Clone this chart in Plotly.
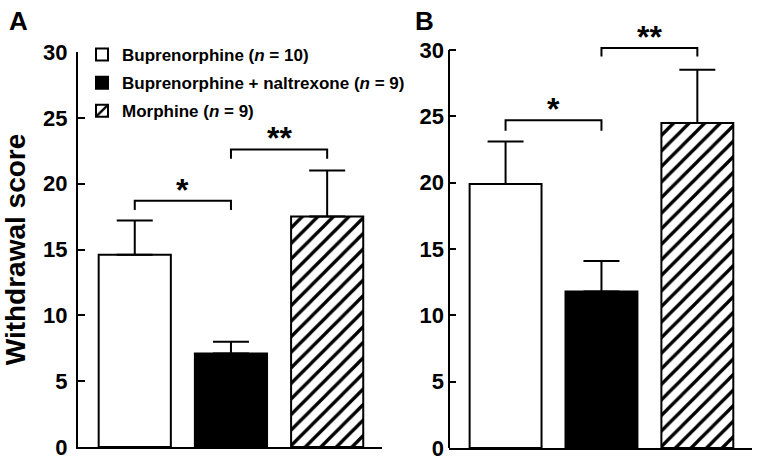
import plotly.graph_objects as go

groups = ["Buprenorphine (<i>n</i> = 10)",
          "Buprenorphine + naltrexone (<i>n</i> = 9)",
          "Morphine (<i>n</i> = 9)"]
xpos = [0, 1, 2]
mean_a = [14.6, 7.1, 17.5]
err_a = [2.6, 0.9, 3.5]
mean_b = [19.9, 11.8, 24.5]
err_b = [3.2, 2.3, 4.0]
yticks = [0, 5, 10, 15, 20, 25, 30]

# significance brackets: (x pair, foot y, top y, label)
sig_a = [([0, 1], 18.0, 18.7, "*"), ([1, 2], 21.9, 22.6, "**")]
sig_b = [([0, 1], 23.9, 24.7, "*"), ([1, 2], 29.5, 30.15, "**")]

FONT = "Liberation Sans, Arial, sans-serif"

# layout geometry (pixels)
W, H = 762, 466
ML, MR, MT, MB = 78, 10, 36, 18
IW, IH = W - ML - MR, H - MT - MB


def px_x(p):
    return (p - ML) / IW


def px_y(p):
    return (H - MB - p) / IH


styles = [
    dict(color="white", line=dict(color="black", width=2)),
    dict(color="black", line=dict(color="black", width=2)),
    dict(color="white", line=dict(color="black", width=2),
         pattern=dict(shape="/", fgcolor="black", bgcolor="white", size=11, solidity=0.3)),
]

fig = go.Figure()
for panel, (means, errs, xa, ya) in enumerate([(mean_a, err_a, "x", "y"), (mean_b, err_b, "x2", "y2")]):
    for i in range(3):
        fig.add_trace(go.Bar(
            x=[xpos[i]], y=[means[i]], width=0.75, name=groups[i],
            marker=styles[i], showlegend=(panel == 0), legendgroup=f"g{i}",
            error_y=dict(type="data", array=[errs[i]], arrayminus=[0], symmetric=False,
                         color="black", thickness=2, width=18),
            xaxis=xa, yaxis=ya))

for sig, xa, ya in [(sig_a, "x", "y"), (sig_b, "x2", "y2")]:
    for (pair, foot, top, label) in sig:
        fig.add_trace(go.Scatter(
            x=[pair[0], pair[0], pair[1], pair[1]], y=[foot, top, top, foot],
            mode="lines", line=dict(color="black", width=2),
            showlegend=False, hoverinfo="skip", xaxis=xa, yaxis=ya))
        fig.add_annotation(x=(pair[0] + pair[1]) / 2, y=top, xref=xa, yref=ya,
                           text=label, showarrow=False, yanchor="bottom", yshift=-9,
                           font=dict(family=FONT, size=32, color="black", weight="bold"))

# panel B's y axis line drawn only up to 30 (range is a bit taller so the top bracket fits)
fig.add_shape(type="line", xref="x2 domain", yref="y2", x0=0, x1=0, y0=0, y1=30,
              line=dict(color="black", width=2))

axis_common = dict(showgrid=False, zeroline=False, linecolor="black", linewidth=2, automargin=False)
tickfont = dict(family=FONT, size=22, color="black", weight="bold")
fig.update_layout(
    template="none",
    width=W, height=H, margin=dict(l=ML, r=MR, t=MT, b=MB, autoexpand=False),
    paper_bgcolor="white", plot_bgcolor="white", barmode="overlay",
    xaxis=dict(domain=[px_x(78), px_x(382)], range=[-0.59, 2.57], showticklabels=False, ticks="",
               showline=True, anchor="y", **axis_common),
    xaxis2=dict(domain=[px_x(449), px_x(752)], range=[-0.59, 2.57], showticklabels=False, ticks="",
                showline=True, anchor="y2", **axis_common),
    yaxis=dict(domain=[px_y(447), px_y(52)], range=[0, 30], tickvals=yticks, ticks="inside",
               ticklen=7, tickwidth=2, tickcolor="black", ticklabelstandoff=4, anchor="x",
               showline=True, tickfont=tickfont,
               title=dict(text="Withdrawal score", standoff=9,
                          font=dict(family=FONT, size=28, color="black", weight="bold")),
               **axis_common),
    yaxis2=dict(domain=[px_y(448), px_y(448 - 31 * 13.27)], range=[0, 31], tickvals=yticks,
                ticks="inside", ticklen=7, tickwidth=2, tickcolor="black", ticklabelstandoff=4,
                anchor="x2", showline=False, tickfont=tickfont, **axis_common),
    legend=dict(x=px_x(82), y=px_y(37), xanchor="left", yanchor="top",
                bgcolor="rgba(0,0,0,0)", font=dict(family=FONT, size=17, color="black", weight="bold"),
                tracegroupgap=3, itemwidth=30),
)
fig.add_annotation(x=px_x(7), y=px_y(4), xref="paper", yref="paper", text="A", showarrow=False,
                   xanchor="left", yanchor="top", font=dict(family=FONT, size=26, color="black", weight="bold"))
fig.add_annotation(x=px_x(413), y=px_y(4), xref="paper", yref="paper", text="B", showarrow=False,
                   xanchor="left", yanchor="top", font=dict(family=FONT, size=26, color="black", weight="bold"))

fig.write_html("out.html", config={"displayModeBar": False},
               post_script="document.body.style.margin='0';")
